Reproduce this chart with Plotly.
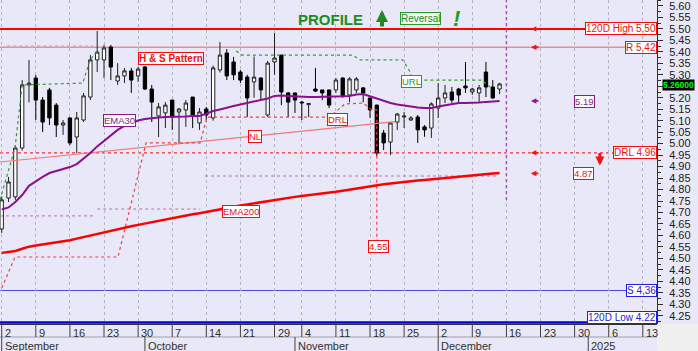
import plotly.graph_objects as go

# ---------------- data (trading-day index, Sep 2 2024 = 0) ----------------
idx = list(range(74))
opens = [4.628, 4.763, 4.768, 4.981, 5.256, 5.286, 5.190, 5.234, 5.168, 5.081,
         5.112, 5.029, 5.103, 5.203, 5.365, 5.365, 5.421, 5.273, 5.295, 5.317,
         5.295, 5.334, 5.238, 5.121, 5.134, 5.190, 5.138, 5.147, 5.203, 5.090,
         5.151, 5.112, 5.321, 5.395, 5.356, 5.312, 5.290, 5.269, 5.286, 5.125,
         5.356, 5.386, 5.221, 5.221, 5.181, 5.170, 5.238, 5.234, 5.234, 5.234,
         5.286, 5.212, 5.234, 5.243, 5.199, 5.168, 5.046, 5.007, 5.094, 5.116,
         5.103, 5.116, 5.073, 5.068, 5.155, 5.199, 5.225, 5.238, 5.251, 5.225,
         5.221, 5.312, 5.247, 5.238]
highs = [4.770, 4.855, 4.994, 5.277, 5.365, 5.299, 5.203, 5.243, 5.177, 5.103,
         5.116, 5.138, 5.221, 5.386, 5.491, 5.430, 5.430, 5.351, 5.330, 5.330,
         5.334, 5.338, 5.256, 5.177, 5.181, 5.190, 5.155, 5.190, 5.203, 5.155,
         5.160, 5.340, 5.443, 5.412, 5.378, 5.321, 5.300, 5.380, 5.290, 5.360,
         5.482, 5.386, 5.225, 5.221, 5.186, 5.177, 5.330, 5.234, 5.234, 5.286,
         5.290, 5.290, 5.290, 5.247, 5.199, 5.170, 5.060, 5.094, 5.134, 5.138,
         5.120, 5.125, 5.081, 5.180, 5.264, 5.256, 5.247, 5.243, 5.356, 5.243,
         5.256, 5.356, 5.277, 5.265]
lows = [4.611, 4.746, 4.755, 4.970, 5.180, 5.103, 5.051, 5.081, 5.029, 5.038,
        4.994, 4.959, 5.094, 5.190, 5.312, 5.286, 5.277, 5.256, 5.264, 5.221,
        5.269, 5.234, 5.094, 5.029, 5.068, 5.060, 5.003, 5.073, 5.068, 5.060,
        5.103, 5.100, 5.310, 5.277, 5.277, 5.264, 5.116, 5.200, 5.190, 5.116,
        5.300, 5.168, 5.116, 5.134, 5.103, 5.116, 5.225, 5.190, 5.155, 5.221,
        5.200, 5.180, 5.220, 5.180, 5.112, 4.946, 4.972, 4.950, 5.060, 5.068,
        5.100, 5.003, 5.030, 5.025, 5.112, 5.177, 5.177, 5.177, 5.221, 5.212,
        5.180, 5.203, 5.195, 5.216]
closes = [4.755, 4.833, 4.981, 5.256, 5.264, 5.190, 5.094, 5.112, 5.081, 5.090,
          5.003, 5.112, 5.208, 5.365, 5.399, 5.417, 5.334, 5.295, 5.317, 5.277,
          5.325, 5.238, 5.181, 5.160, 5.168, 5.116, 5.151, 5.177, 5.125, 5.138,
          5.125, 5.330, 5.386, 5.295, 5.300, 5.277, 5.199, 5.290, 5.234, 5.351,
          5.373, 5.225, 5.181, 5.190, 5.178, 5.175, 5.229, 5.221, 5.168, 5.277,
          5.208, 5.282, 5.282, 5.221, 5.147, 4.959, 5.003, 5.090, 5.129, 5.120,
          5.112, 5.060, 5.060, 5.173, 5.199, 5.221, 5.190, 5.212, 5.243, 5.238,
          5.243, 5.247, 5.199, 5.260]
ema30 = [4.713, 4.722, 4.746, 4.776, 4.816, 4.837, 4.855, 4.872, 4.881, 4.890,
         4.898, 4.911, 4.933, 4.959, 4.988, 5.012, 5.036, 5.060, 5.077, 5.090,
         5.101, 5.107, 5.112, 5.114, 5.116, 5.116, 5.118, 5.118, 5.121, 5.121,
         5.131, 5.142, 5.149, 5.158, 5.164, 5.171, 5.177, 5.182, 5.188, 5.197,
         5.208, 5.210, 5.208, 5.206, 5.203, 5.203, 5.203, 5.203, 5.203, 5.203,
         5.206, 5.208, 5.214, 5.216, 5.206, 5.195, 5.184, 5.177, 5.171, 5.166,
         5.162, 5.158, 5.155, 5.155, 5.162, 5.168, 5.173, 5.177, 5.177, 5.177,
         5.179, 5.182, 5.184, 5.186]
ema200 = [4.524, 4.527, 4.532, 4.542, 4.551, 4.556, 4.560, 4.565, 4.569, 4.573,
          4.579, 4.586, 4.593, 4.601, 4.608, 4.614, 4.621, 4.627, 4.633, 4.640,
          4.646, 4.652, 4.659, 4.664, 4.670, 4.676, 4.681, 4.686, 4.692, 4.697,
          4.703, 4.708, 4.714, 4.719, 4.724, 4.730, 4.735, 4.740, 4.746, 4.751,
          4.755, 4.759, 4.763, 4.768, 4.772, 4.775, 4.779, 4.783, 4.786, 4.790,
          4.795, 4.800, 4.806, 4.811, 4.816, 4.820, 4.823, 4.826, 4.830, 4.833,
          4.836, 4.839, 4.842, 4.845, 4.846, 4.850, 4.854, 4.858, 4.861, 4.863,
          4.866, 4.868, 4.870, 4.872]

# stepped guide lines (index, price)
url_x = [-0.25, 1.95, 3.0, 11.9, 12.95, 14.0, None,
         34.4, 35.2, 51.5, 52.5, 58.8, 59.9, 60.2, 70.4, 71.6]
url_y = [4.755, 4.981, 5.256, 5.264, 5.365, 5.404, None,
         5.404, 5.386, 5.386, 5.365, 5.365, 5.312, 5.277, 5.277, 5.247]
drl_x = [0.0, 1.95, 17.05, 21.16, 29.1, 30.1, 48.1, 50.3, 52.97, 54.3, 55.0, 55.0]
drl_y = [4.371, 4.506, 4.506, 5.003, 5.003, 5.116, 5.116, 5.173, 5.177, 5.147, 5.147, 4.580]
band_x = [-0.25, 13.4, None, 14.0, 29.1, None, 29.8, 72.8]
band_y = [4.685, 4.685, None, 4.715, 4.715, None, 4.859, 4.859]
pink_x = [0.8, 13.4]
pink_y = [5.426, 5.426]
nl_x = [-0.25, 57.7]
nl_y = [4.920, 5.096]
today_x = [74, 74]
today_y = [5.63, 4.74]

# levels
high120, res, drl_lvl, sup, low120 = 5.50, 5.42, 4.96, 4.36, 4.22
ema30_last, ema200_last, low_mark, last_price = 5.19, 4.87, 4.55, 5.26

# axis labels
tick_idx = [0, 5, 10, 15, 20, 25, 30, 35, 40, 44, 49, 54, 59, 64, 69, 74, 79, 84, 89, 94]
tick_txt = ['2', '9', '16', '23', '30', '7', '14', '21', '29', '4', '11', '18', '25',
            '2', '9', '16', '23', '30', '6', '13']
month_idx = [0, 21, 43, 64, 86]
month_txt = ['September', 'October', 'November', 'December', '2025']
price_ticks = [round(4.25 + 0.05 * k, 2) for k in range(28)]
price_txt = ['' if abs(v - last_price) < 0.02 else '%.2f' % v for v in price_ticks]

FONT = 'Liberation Sans, Arial, sans-serif'
BG = '#E8E8F8'
RED = '#FF1010'
PINK = '#F07878'
PURPLE = '#8B1A8B'
GREEN = '#2A9A2A'
BLUE = '#2020E0'

PH = 324.0  # plot height px

fig = go.Figure()

fig.add_trace(go.Scatter(x=band_x, y=band_y, mode='lines',
                         line=dict(color='#B070B0', width=1, dash='dot'), hoverinfo='skip'))
fig.add_trace(go.Scatter(x=pink_x, y=pink_y, mode='lines',
                         line=dict(color='#E890B0', width=1, dash='dot'), hoverinfo='skip'))
fig.add_trace(go.Scatter(x=nl_x, y=nl_y, mode='lines',
                         line=dict(color=PINK, width=1.2), hoverinfo='skip'))
fig.add_trace(go.Scatter(x=drl_x, y=drl_y, mode='lines',
                         line=dict(color='#F04040', width=1.2, dash='dot'), hoverinfo='skip'))
fig.add_trace(go.Scatter(x=url_x, y=url_y, mode='lines', connectgaps=False,
                         line=dict(color='#30A030', width=1.2, dash='dot'), hoverinfo='skip'))
fig.add_trace(go.Scatter(x=today_x, y=today_y, mode='lines',
                         line=dict(color='#B050C0', width=1.5, dash='dot'), hoverinfo='skip'))
fig.add_trace(go.Scatter(x=idx, y=ema200, mode='lines',
                         line=dict(color='#FF0000', width=2.5), hoverinfo='skip'))
fig.add_trace(go.Scatter(x=idx, y=ema30, mode='lines',
                         line=dict(color='#8B1090', width=2), hoverinfo='skip'))
fig.add_trace(go.Candlestick(
    x=idx, open=opens, high=highs, low=lows, close=closes,
    increasing=dict(line=dict(color='#202020', width=1), fillcolor='white'),
    decreasing=dict(line=dict(color='#000000', width=1), fillcolor='black'),
    whiskerwidth=0, hoverinfo='skip'))

shapes = []
# level lines
for lvl, col, w, dash in [(high120, '#FF0000', 2, 'solid'), (res, '#F08C8C', 1.6, 'solid'),
                          (drl_lvl, '#F03030', 1.2, 'dot'), (sup, '#4A4AF0', 1, 'solid'),
                          (low120, '#0000E0', 2.5, 'solid')]:
    shapes.append(dict(type='line', xref='paper', yref='y', x0=0, x1=1, y0=lvl, y1=lvl,
                       line=dict(color=col, width=w, dash=dash), layer='below'))
# bottom axis: row divider and separators
shapes.append(dict(type='line', xref='paper', yref='paper', x0=0, x1=1,
                   y0=-13 / PH, y1=-13 / PH, line=dict(color='#A0A0A8', width=1)))
for t in tick_idx:
    shapes.append(dict(type='line', xref='x', yref='paper', x0=t, x1=t, y0=0, y1=-13 / PH,
                       line=dict(color='#404040', width=1)))
for t in month_idx:
    shapes.append(dict(type='line', xref='x', yref='paper', x0=t, x1=t, y0=-13 / PH, y1=-27 / PH,
                       line=dict(color='#404040', width=1)))
# corner below right axis
shapes.append(dict(type='rect', xref='paper', yref='paper', x0=1, x1=1 + 41 / 657.0,
                   y0=0, y1=-27 / PH, fillcolor='#F0F0F0', line=dict(width=0)))

ann = []
for t, s in zip(tick_idx, tick_txt):
    ann.append(dict(x=t, y=0, xref='x', yref='paper', text=s, showarrow=False,
                    xanchor='left', yanchor='top', xshift=1, yshift=-1,
                    font=dict(family=FONT, size=11, color='#303030')))
for t, s in zip(month_idx, month_txt):
    ann.append(dict(x=t, y=-13 / PH, xref='x', yref='paper', text=s, showarrow=False,
                    xanchor='left', yanchor='top', xshift=1, yshift=-1,
                    font=dict(family=FONT, size=11, color='#303030')))


def box(x, y, text, col, xref='x', xanchor='center', size=10, bold=False, bg='white', ys=0):
    txt = '<b>%s</b>' % text if bold else text
    return dict(x=x, y=y, xref=xref, yref='y', text=txt, showarrow=False,
                xanchor=xanchor, yanchor='middle', bgcolor=bg, bordercolor=col,
                borderwidth=1, borderpad=0, yshift=ys,
                font=dict(family=FONT, size=size, color=col))


# right side level labels
ann.append(box(1, high120, '120D High 5,50', '#F01010', xref='paper', xanchor='right'))
ann.append(box(1, res, 'R 5,42', '#F01010', xref='paper', xanchor='right'))
ann.append(box(1, drl_lvl, 'DRL 4.96', '#F01010', xref='paper', xanchor='right'))
ann.append(box(1, sup, 'S 4,36', BLUE, xref='paper', xanchor='right'))
ann.append(box(1, low120, '120D Low 4.22', BLUE, xref='paper', xanchor='right', ys=5))
# in-chart labels
ann.append(box(24.8, 5.373, 'H &amp; S Pattern', '#F01010', bold=True))
ann.append(box(17.2, 5.101, 'EMA30', PURPLE, size=9.5))
ann.append(box(35.1, 4.704, 'EMA200', '#F01010', size=9.5))
ann.append(box(37.1, 5.029, 'NL', '#F01010', size=9.5))
ann.append(box(49.2, 5.105, 'DRL', '#F01010', size=9.5))
ann.append(box(60.1, 5.271, 'URL', GREEN, size=9.5))
ann.append(box(85.5, 5.185, '%.2f' % ema30_last, PURPLE, size=9.5))
ann.append(box(85.3, ema200_last, '%.2f' % ema200_last, '#F01010', size=9.5))
ann.append(box(55.3, low_mark, '%.2f' % low_mark, '#F01010', size=9.5))
# left-pointing arrows
for lvl, col in [(high120, RED), (res, RED), (drl_lvl, RED), (ema200_last, RED), (5.186, PURPLE)]:
    ann.append(dict(x=77.6, y=lvl, xref='x', yref='y', text='', showarrow=True,
                    ax=9, ay=0, arrowhead=2, arrowsize=0.6, arrowwidth=1.8, arrowcolor=col))
# red down arrow
ann.append(dict(x=87.7, y=4.905, xref='x', yref='y', text='', showarrow=True,
                ax=0, ay=-14, arrowhead=2, arrowsize=0.6, arrowwidth=3, arrowcolor=RED))
# title group
ann.append(dict(x=330 / 657.0, y=1 - 19 / PH, xref='paper', yref='paper', text='<b>PROFILE</b>',
                showarrow=False, xanchor='center', yanchor='middle',
                font=dict(family=FONT, size=15, color='#1E8C1E')))
ann.append(dict(x=382 / 657.0, y=1 - 10 / PH, xref='paper', yref='paper', text='',
                showarrow=True, ax=0, ay=18, arrowhead=2, arrowsize=0.6, arrowwidth=4,
                arrowcolor='#1E8C1E'))
ann.append(dict(x=420.5 / 657.0, y=1 - 18.5 / PH, xref='paper', yref='paper', text='Reversal',
                showarrow=False, xanchor='center', yanchor='middle', bgcolor='#F4F8F4',
                bordercolor=GREEN, borderwidth=1, borderpad=0,
                font=dict(family=FONT, size=10, color='#1E8C1E')))
ann.append(dict(x=456 / 657.0, y=1 - 18 / PH, xref='paper', yref='paper', text='<b><i>!</i></b>',
                showarrow=False, xanchor='center', yanchor='middle',
                font=dict(family=FONT, size=22, color='#1E9C1E')))
# last price tag
ann.append(dict(x=1, y=last_price, xref='paper', yref='y', text='<b>%.5f</b>' % last_price,
                showarrow=False, xanchor='left', yanchor='middle', xshift=5, yshift=-1,
                bgcolor='black', borderpad=0,
                font=dict(family=FONT, size=8.5, color='#00FF00')))

fig.update_layout(
    width=698, height=351, autosize=False,
    margin=dict(l=0, r=41, t=0, b=27),
    paper_bgcolor=BG, plot_bgcolor=BG,
    showlegend=False,
    shapes=shapes, annotations=ann,
    xaxis=dict(range=[-0.25, 96.08], tickvals=tick_idx, showticklabels=False,
               showgrid=True, gridcolor='#B4B4C4', griddash='dot', gridwidth=1,
               zeroline=False, showline=True, linecolor='#303030', linewidth=1,
               rangeslider=dict(visible=False), fixedrange=True),
    yaxis=dict(side='right', range=[4.214, 5.626], tickvals=price_ticks, ticktext=price_txt,
               ticks='outside', ticklen=5, tickcolor='#303030', ticklabelstandoff=4,
               ticklabeloverflow='allow',
               showline=True, linecolor='#303030', linewidth=1, showgrid=False,
               zeroline=False,
               minor=dict(dtick=0.025, tick0=4.25, ticks='outside', ticklen=3,
                          tickcolor='#303030', showgrid=False),
               tickfont=dict(family=FONT, size=11, color='#202020'), fixedrange=True),
)

fig.write_html('out.html')
